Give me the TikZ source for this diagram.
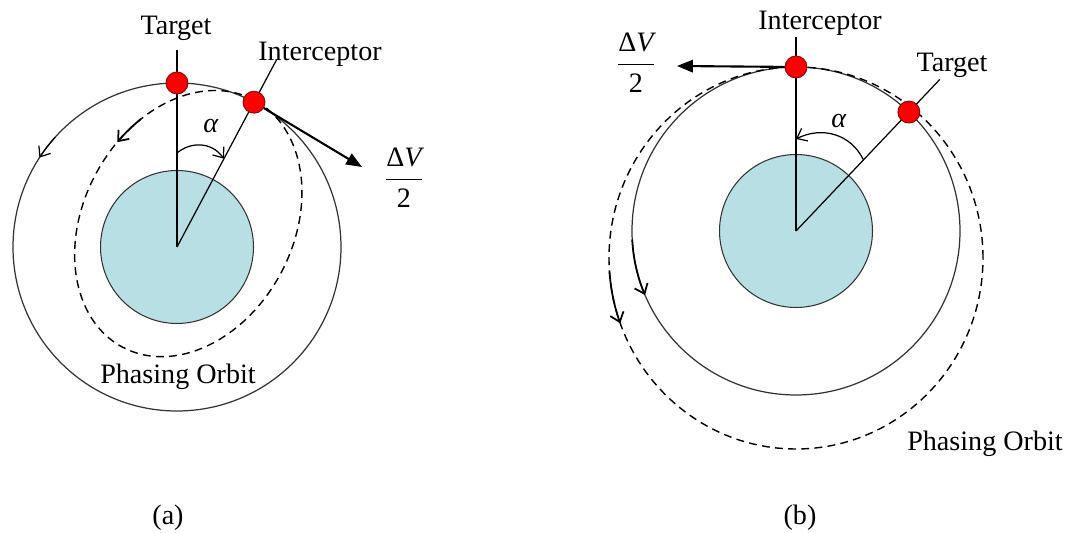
\documentclass[tikz,border=0pt]{standalone}
\usepackage{fontspec}
\setmainfont{Liberation Serif}
\usepackage{amsmath}
\usepackage{tikz}
\usetikzlibrary{arrows.meta, positioning, calc}
\definecolor{earthblue}{HTML}{B8DFE3}
\definecolor{satred}{HTML}{FF0000}
\definecolor{satrim}{HTML}{7A0A0A}
\definecolor{orbitgray}{HTML}{333333}

\begin{document}
\begin{tikzpicture}[x=0.02cm, y=0.02cm, font=\fontsize{16}{19}\selectfont]
  \tikzstyle{sat}=[circle, draw=satrim, fill=satred, line width=0.5pt,
    minimum size=0.44cm, inner sep=0pt]
  \tikzstyle{earth}=[circle, draw=orbitgray, fill=earthblue, line width=0.6pt,
    minimum size=3.06cm, inner sep=0pt]
  \tikzstyle{orbit}=[draw=orbitgray, line width=0.7pt]
  \tikzstyle{phase}=[orbit, black, line width=0.8pt, dash pattern=on 4.5pt off 3pt]
  \tikzstyle{radial}=[black, line width=0.7pt]
  \tikzstyle{flow}=[-{Straight Barb[length=5pt,width=8pt]}, line width=1pt]
  \tikzstyle{dv}=[-{Triangle[length=9pt,width=7pt]}, line width=1.2pt]
  \tikzstyle{lbl}=[anchor=base, inner sep=0pt]

  \useasboundingbox (0,0) rectangle (1073,-533);

  % ---- (a) interceptor ahead of target: lower phasing orbit
  \coordinate (oA) at (177,-247);
  \coordinate (eA) at (188.3,-223.6);
  \draw[orbit] (oA) circle (164);
  \begin{scope}[shift={(eA)}, rotate=62]
    \draw[phase] (0,0) ellipse (140 and 105);
    \draw[flow] (60:140 and 105) arc[start angle=60, end angle=74,
      x radius=140, y radius=105];
  \end{scope}
  \draw[flow, line width=0.7pt] ($(oA)+(138:164)$)
    arc[start angle=138, end angle=147, radius=164];
  \node[earth] (earthA) at (oA) {};

  \coordinate (topA) at ($(oA)+(90:197)$);
  \coordinate (tipA) at ($(oA)+(62:212)$);
  \draw[radial] (oA) -- (topA);
  \draw[radial] (oA) -- (tipA);

  \coordinate (alA1) at ($(oA)+(90:94)$);
  \coordinate (alA2) at ($(oA)+(62:100)$);
  \draw[flow, line width=0.7pt] (alA1) .. controls (190,-142) and (211,-141) .. (alA2);
  \node (alphaA) at (211,-126) {\textit{α}};

  \node[sat] (tgtA) at ($(oA)+(90:164)$) {};
  \node[sat] (intA) at ($(oA)+(62:164)$) {};
  \coordinate (dvA) at (362,-167);
  \draw[dv] (intA) -- (dvA);

  \node[lbl] (tgtAlbl) at (176,-35) {Target};
  \node[lbl] (intAlbl) at (320,-61) {Interceptor};
  \node (dvAlbl) at (404,-178) {$\dfrac{\text{Δ}\textit{V}}{\text{2}}$};
  \node[lbl] (phAlbl) at (178,-384) {Phasing Orbit};
  \node[lbl] (capA) at (168,-525) {(a)};

  % ---- (b) interceptor behind target: higher phasing orbit
  \coordinate (oB) at (796,-231);
  \coordinate (eB) at (796,-258);
  \draw[orbit] (oB) circle (164);
  \draw[phase] (eB) ellipse (187 and 191);
  \draw[flow] ($(oB)+(183:164)$) arc[start angle=183, end angle=203, radius=164];
  \draw[flow] ($(eB)+(184:187 and 191)$) arc[start angle=184, end angle=200,
    x radius=187, y radius=191];
  \node[earth] (earthB) at (oB) {};

  \coordinate (topB) at ($(oB)+(90:194)$);
  \coordinate (tipB) at ($(oB)+(46.5:209)$);
  \draw[radial] (oB) -- (topB);
  \draw[radial] (oB) -- (tipB);

  \coordinate (alB1) at ($(oB)+(46.5:98)$);
  \coordinate (alB2) at ($(oB)+(90:92)$);
  \draw[flow, line width=0.7pt] (alB1) .. controls (851,-134) and (822,-126) .. (alB2);
  \node (alphaB) at (839,-121) {\textit{α}};

  \node[sat] (intB) at ($(oB)+(90:164)$) {};
  \node[sat] (tgtB) at ($(oB)+(46.5:164)$) {};
  \coordinate (dvB) at (677,-66);
  \draw[dv] (intB) -- (dvB);

  \node[lbl] (intBlbl) at (820,-30) {Interceptor};
  \node[lbl] (tgtBlbl) at (952,-72) {Target};
  \node (dvBlbl) at (636,-63) {$\dfrac{\text{Δ}\textit{V}}{\text{2}}$};
  \node[lbl] (phBlbl) at (985,-451) {Phasing Orbit};
  \node[lbl] (capB) at (800,-525) {(b)};
\end{tikzpicture}
\end{document}
